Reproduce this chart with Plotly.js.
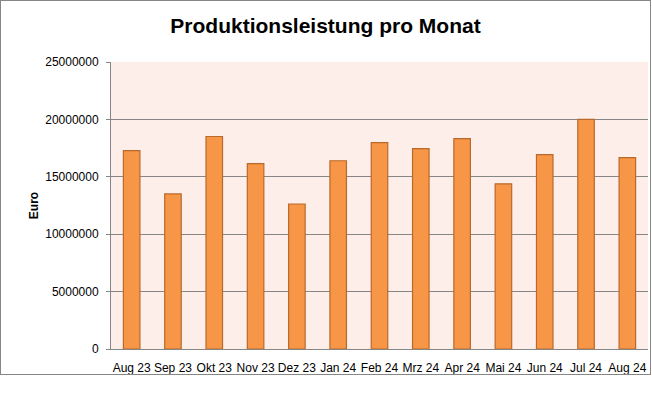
<!DOCTYPE html>
<html>
<head>
<meta charset="utf-8">
<script src="https://cdn.plot.ly/plotly-3.0.1.min.js"></script>
<style>
html, body { margin: 0; padding: 0; background: #fff; }
#wrap { position: absolute; left: 0; top: 0; width: 649px; height: 373px; border: 1px solid #868686; }
#chart { width: 649px; height: 373px; }
</style>
</head>
<body>
<div id="wrap"><div id="chart"></div></div>
<script>
const months = ["Aug 23", "Sep 23", "Okt 23", "Nov 23", "Dez 23", "Jan 24", "Feb 24", "Mrz 24", "Apr 24", "Mai 24", "Jun 24", "Jul 24", "Aug 24"];
const euro = [17280000, 13510000, 18510000, 16140000, 12630000, 16400000, 17980000, 17460000, 18330000, 14390000, 16930000, 20000000, 16670000];
const yTicks = [0, 5000000, 10000000, 15000000, 20000000, 25000000];
const chartTitle = "Produktionsleistung pro Monat";
const yTitle = "Euro";

const trace = {
  type: "bar",
  x: months,
  y: euro,
  marker: { color: "#F79646", line: { color: "#B9692C", width: 1.2 } },
  hoverinfo: "x+y"
};

const layout = {
  width: 649,
  height: 373,
  margin: { l: 110, r: 2, t: 61, b: 25 },
  paper_bgcolor: "#ffffff",
  plot_bgcolor: "#FDEEE9",
  bargap: 0.6,
  showlegend: false,
  font: { family: "Liberation Sans, Arial, sans-serif", size: 12, color: "#000" },
  title: {
    text: chartTitle,
    font: { family: "Liberation Sans, Arial, sans-serif", size: 21, color: "#000", weight: "bold" },
    x: 0.5, xanchor: "center",
    y: 0.935, yanchor: "middle",
    yref: "container"
  },
  xaxis: {
    type: "category",
    showline: true,
    linecolor: "#868686",
    linewidth: 1,
    ticks: "",
    showgrid: false,
    ticklabelstandoff: 8,
    tickfont: { size: 12, color: "#000" },
    automargin: false
  },
  yaxis: {
    range: [0, 25000000],
    tickvals: yTicks,
    ticktext: yTicks.map(v => String(v)),
    showline: true,
    linecolor: "#868686",
    linewidth: 1,
    ticks: "outside",
    ticklen: 4,
    tickcolor: "#868686",
    showgrid: true,
    gridcolor: "#868686",
    gridwidth: 1,
    zeroline: false,
    ticklabelstandoff: 5,
    tickfont: { size: 12, color: "#000" },
    automargin: false,
    title: {
      text: yTitle,
      font: { size: 12, color: "#000", weight: "bold" },
      standoff: 4
    }
  }
};

Plotly.newPlot("chart", [trace], layout, { displayModeBar: false, staticPlot: true });
</script>
</body>
</html>
